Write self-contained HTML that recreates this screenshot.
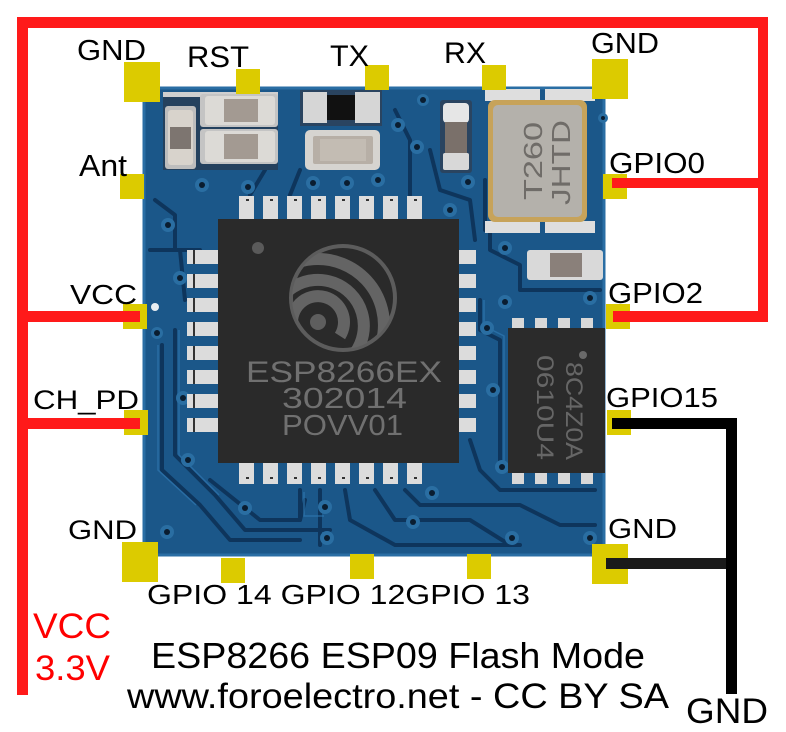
<!DOCTYPE html>
<html><head><meta charset="utf-8">
<style>
html,body{margin:0;padding:0;background:#fff;}
svg{display:block;}
text{font-family:"Liberation Sans",Arial,sans-serif;}
</style></head>
<body>
<svg width="786" height="732" viewBox="0 0 786 732" xmlns="http://www.w3.org/2000/svg">
<rect width="786" height="732" fill="#fff"/>

<!-- PCB board -->
<rect x="143" y="87" width="462" height="469" fill="#1b5789"/>
<rect x="144" y="88" width="460" height="467" fill="none" stroke="#2a6ea4" stroke-width="3"/>
<!-- traces (dark outlines) -->
<g fill="none" stroke="#0e355c" stroke-width="4" stroke-linecap="round" stroke-linejoin="round">
  <path d="M155 200 L175 215 L175 250 L200 250"/>
  <path d="M150 250 L180 250 L185 300"/>
  <path d="M162 345 L162 470 L200 505 L230 540 L300 540"/>
  <path d="M175 330 L175 455 L215 495 L245 530 L330 530"/>
  <path d="M210 480 L260 520 L300 520 L305 500"/>
  <path d="M300 490 L300 520 M320 490 L320 545 M345 490 L350 520 L395 545 L520 545"/>
  <path d="M375 490 L395 520 L470 520 L510 545"/>
  <path d="M405 490 L420 505 L520 505 L560 525 L595 525"/>
  <path d="M470 440 L480 470 L500 490 L595 490"/>
  <path d="M480 300 L480 330 L500 340 L500 470"/>
  <path d="M490 230 L490 250 L520 265 L520 290 L600 290"/>
  <path d="M430 150 L440 190 L470 200 L475 240"/>
  <path d="M395 110 L410 140 L410 195"/>
  <path d="M300 170 L290 195 M265 170 L250 195"/>
  <path d="M485 180 L485 230"/>
</g>
<g fill="none" stroke="#2f77b0" stroke-width="1.5" opacity="0.7">
  <path d="M158 345 L158 470 L196 505"/>
  <path d="M179 330 L179 455 L219 495"/>
  <path d="M304 492 L304 516 L324 516"/>
  <path d="M484 300 L484 326 L504 336 L504 466"/>
</g>

<!-- vias -->
<g>
  <g fill="#2a6ea2">
    <circle cx="202" cy="185" r="7"/><circle cx="248" cy="187" r="7"/><circle cx="313" cy="183" r="7"/>
    <circle cx="347" cy="183" r="7"/><circle cx="378" cy="180" r="7"/><circle cx="398" cy="125" r="7"/>
    <circle cx="417" cy="147" r="7"/><circle cx="423" cy="100" r="6"/><circle cx="468" cy="182" r="7"/>
    <circle cx="450" cy="210" r="7"/><circle cx="168" cy="225" r="7"/><circle cx="180" cy="278" r="7"/>
    <circle cx="157" cy="333" r="6"/><circle cx="183" cy="398" r="7"/><circle cx="188" cy="460" r="7"/>
    <circle cx="167" cy="532" r="7"/><circle cx="245" cy="508" r="7"/><circle cx="325" cy="507" r="7"/>
    <circle cx="327" cy="538" r="7"/><circle cx="413" cy="522" r="7"/><circle cx="432" cy="493" r="7"/>
    <circle cx="505" cy="248" r="7"/><circle cx="505" cy="302" r="7"/><circle cx="487" cy="328" r="7"/>
    <circle cx="493" cy="390" r="7"/><circle cx="502" cy="467" r="7"/><circle cx="512" cy="538" r="7"/>
    <circle cx="590" cy="298" r="7"/><circle cx="590" cy="538" r="7"/><circle cx="603" cy="118" r="5"/>
  </g>
  <g fill="#0a1d30">
    <circle cx="202" cy="185" r="3"/><circle cx="248" cy="187" r="3"/><circle cx="313" cy="183" r="3"/>
    <circle cx="347" cy="183" r="3"/><circle cx="378" cy="180" r="3"/><circle cx="398" cy="125" r="3"/>
    <circle cx="417" cy="147" r="3"/><circle cx="423" cy="100" r="3"/><circle cx="468" cy="182" r="3"/>
    <circle cx="450" cy="210" r="3"/><circle cx="168" cy="225" r="3"/><circle cx="180" cy="278" r="3"/>
    <circle cx="157" cy="333" r="3"/><circle cx="183" cy="398" r="3"/><circle cx="188" cy="460" r="3"/>
    <circle cx="167" cy="532" r="3"/><circle cx="245" cy="508" r="3"/><circle cx="325" cy="507" r="3"/>
    <circle cx="327" cy="538" r="3"/><circle cx="413" cy="522" r="3"/><circle cx="432" cy="493" r="3"/>
    <circle cx="505" cy="248" r="3"/><circle cx="505" cy="302" r="3"/><circle cx="487" cy="328" r="3"/>
    <circle cx="493" cy="390" r="3"/><circle cx="502" cy="467" r="3"/><circle cx="512" cy="538" r="3"/>
    <circle cx="590" cy="298" r="3"/><circle cx="590" cy="538" r="3"/><circle cx="603" cy="118" r="2"/>
  </g>
  <circle cx="155" cy="307" r="4" fill="#e8eef2"/>
</g>

<!-- top-left SMD group -->
<rect x="163" y="92" width="115" height="78" fill="#24415e"/>
<rect x="163" y="92" width="115" height="5" fill="#cfcfcf"/>
<rect x="165" y="106" width="31" height="63" rx="3" fill="#bdbdbd"/>
<rect x="168" y="110" width="25" height="55" rx="3" fill="#d8d3cc"/>
<rect x="170" y="127" width="21" height="22" fill="#7d7570"/>
<rect x="200" y="94" width="78" height="33" rx="3" fill="#c4c4c4"/>
<rect x="205" y="96" width="70" height="29" rx="3" fill="#dcdad6"/>
<rect x="224" y="99" width="34" height="23" fill="#a39a92"/>
<rect x="200" y="129" width="78" height="35" rx="3" fill="#c4c4c4"/>
<rect x="205" y="131" width="70" height="31" rx="3" fill="#dcdad6"/>
<rect x="224" y="134" width="34" height="25" fill="#a39a92"/>

<!-- transistor / diode -->
<rect x="300" y="90" width="82" height="36" fill="#2a4460"/>
<rect x="303" y="92" width="24" height="31" fill="#d6d6d6"/>
<rect x="327" y="95" width="30" height="25" fill="#111"/>
<rect x="355" y="92" width="25" height="31" fill="#d6d6d6"/>
<!-- cap -->
<rect x="305" y="130" width="75" height="40" rx="5" fill="#d6d4d0"/>
<rect x="313" y="136" width="60" height="28" rx="2" fill="#b7afa6"/>
<rect x="320" y="139" width="46" height="22" fill="#c3bcb3"/>
<!-- vertical cap -->
<rect x="440" y="100" width="32" height="73" rx="3" fill="#2a4460"/>
<rect x="443" y="103" width="26" height="20" rx="4" fill="#e6e6e6"/>
<rect x="445" y="122" width="22" height="32" fill="#7a706a"/>
<rect x="443" y="153" width="26" height="17" rx="2" fill="#d8d8d8"/>

<!-- crystal -->
<rect x="485" y="89" width="55" height="12" fill="#dedede"/>
<rect x="545" y="89" width="50" height="12" fill="#dedede"/>
<rect x="485" y="221" width="55" height="12" fill="#dedede"/>
<rect x="545" y="221" width="50" height="12" fill="#dedede"/>
<rect x="488" y="100" width="99" height="122" rx="7" fill="#c7a35a"/>
<rect x="493" y="105" width="89" height="112" rx="5" fill="#b4b1ab"/>
<text transform="translate(542,200) rotate(-90)" font-size="26" fill="#6f6c68" textLength="78" lengthAdjust="spacingAndGlyphs">T260</text>
<text transform="translate(570,205) rotate(-90)" font-size="26" fill="#6f6c68" textLength="85" lengthAdjust="spacingAndGlyphs">JHTD</text>

<!-- right cap -->
<rect x="527" y="250" width="76" height="30" rx="3" fill="#d9d9d9"/>
<rect x="550" y="253" width="32" height="24" fill="#8a807a"/>

<!-- main chip pins -->
<g fill="#dcdcdc">
  <rect x="239" y="196" width="15" height="24"/><rect x="263" y="196" width="15" height="24"/>
  <rect x="287" y="196" width="15" height="24"/><rect x="311" y="196" width="15" height="24"/>
  <rect x="335" y="196" width="15" height="24"/><rect x="359" y="196" width="15" height="24"/>
  <rect x="383" y="196" width="15" height="24"/><rect x="407" y="196" width="15" height="24"/>
  <rect x="239" y="462" width="15" height="22"/><rect x="263" y="462" width="15" height="22"/>
  <rect x="287" y="462" width="15" height="22"/><rect x="311" y="462" width="15" height="22"/>
  <rect x="335" y="462" width="15" height="22"/><rect x="359" y="462" width="15" height="22"/>
  <rect x="383" y="462" width="15" height="22"/><rect x="407" y="462" width="15" height="22"/>
  <rect x="187" y="250" width="32" height="14"/><rect x="187" y="274" width="32" height="14"/>
  <rect x="187" y="298" width="32" height="14"/><rect x="187" y="322" width="32" height="14"/>
  <rect x="187" y="346" width="32" height="14"/><rect x="187" y="370" width="32" height="14"/>
  <rect x="187" y="394" width="32" height="14"/><rect x="187" y="418" width="32" height="14"/>
  <rect x="458" y="250" width="18" height="14"/><rect x="458" y="274" width="18" height="14"/>
  <rect x="458" y="298" width="18" height="14"/><rect x="458" y="322" width="18" height="14"/>
  <rect x="458" y="346" width="18" height="14"/><rect x="458" y="370" width="18" height="14"/>
  <rect x="458" y="394" width="18" height="14"/><rect x="458" y="418" width="18" height="14"/>
</g>
<g stroke="#333" stroke-width="2" fill="none">
  <path d="M194 250 v14 M194 274 v14 M194 298 v14 M194 322 v14 M194 346 v14 M194 370 v14 M194 394 v14 M194 418 v14"/>
  <path d="M246 200 h3 M270 200 h3 M294 200 h3 M318 200 h3 M342 200 h3 M366 200 h3 M390 200 h3 M414 200 h3"/>
  <path d="M246 478 h3 M270 478 h3 M294 478 h3 M318 478 h3 M342 478 h3 M366 478 h3 M390 478 h3 M414 478 h3"/>
</g>

<!-- main chip body -->
<rect x="218" y="219" width="241" height="244" fill="#2a2a2a"/>
<circle cx="258" cy="248" r="6" fill="#5a5a5a"/>
<!-- ESP logo -->
<defs><clipPath id="lc"><circle cx="343" cy="298" r="51"/></clipPath></defs>
<circle cx="343" cy="298" r="52" fill="none" stroke="#5c5c5c" stroke-width="4"/>
<g clip-path="url(#lc)" fill="none" stroke="#646464" stroke-width="12">
  <path d="M292 322 A26 26 0 1 1 340 336"/>
  <path d="M272 322 A46 46 0 1 1 355 353"/>
  <path d="M252 322 A66 66 0 1 1 368 368"/>
</g>
<circle cx="318" cy="322" r="8" fill="#5e5e5e"/>
<text x="246" y="382" font-size="30" fill="#707070" textLength="196" lengthAdjust="spacingAndGlyphs">ESP8266EX</text>
<text x="282" y="408" font-size="29" fill="#707070" textLength="125" lengthAdjust="spacingAndGlyphs">302014</text>
<text x="282" y="435" font-size="29" fill="#707070" textLength="121" lengthAdjust="spacingAndGlyphs">POVV01</text>

<!-- flash chip -->
<g fill="#d8d8d8">
  <rect x="512" y="318" width="12" height="11"/><rect x="535" y="318" width="12" height="11"/>
  <rect x="558" y="318" width="12" height="11"/><rect x="581" y="318" width="12" height="11"/>
  <rect x="512" y="472" width="12" height="12"/><rect x="535" y="472" width="12" height="12"/>
  <rect x="558" y="472" width="12" height="12"/><rect x="581" y="472" width="12" height="12"/>
</g>
<rect x="508" y="328" width="97" height="145" fill="#2b2b2b"/>
<circle cx="583" cy="355" r="4" fill="#6a6a6a"/>
<text transform="translate(537,355) rotate(90)" font-size="24" fill="#666" textLength="105" lengthAdjust="spacingAndGlyphs">0610U4</text>
<text transform="translate(566,362) rotate(90)" font-size="24" fill="#666" textLength="98" lengthAdjust="spacingAndGlyphs">8C4Z0A</text>

<!-- yellow pads -->
<g fill="#dccb00">
  <rect x="124" y="62" width="36" height="40"/>
  <rect x="236" y="69" width="24" height="25"/>
  <rect x="365" y="65" width="24" height="25"/>
  <rect x="482" y="65" width="24" height="25"/>
  <rect x="592" y="59" width="36" height="40"/>
  <rect x="120" y="174" width="24" height="25"/>
  <rect x="603" y="174" width="24" height="25"/>
  <rect x="123" y="304" width="24" height="25"/>
  <rect x="606" y="304" width="24" height="25"/>
  <rect x="124" y="410" width="24" height="25"/>
  <rect x="607" y="410" width="24" height="25"/>
  <rect x="122" y="542" width="36" height="40"/>
  <rect x="592" y="544" width="36" height="40"/>
  <rect x="221" y="558" width="24" height="25"/>
  <rect x="350" y="554" width="24" height="25"/>
  <rect x="467" y="554" width="24" height="25"/>
</g>

<!-- red wires -->
<g fill="#ff1a1a">
  <rect x="17" y="17" width="751" height="11"/>
  <rect x="17" y="17" width="11" height="678"/>
  <rect x="758" y="17" width="10" height="305"/>
  <rect x="612" y="178" width="156" height="10"/>
  <rect x="613" y="311" width="155" height="11"/>
  <rect x="17" y="311" width="123" height="11"/>
  <rect x="17" y="418" width="123" height="11"/>
</g>
<!-- black wires -->
<rect x="612" y="418" width="125" height="11" fill="#000"/>
<rect x="726" y="418" width="11" height="276" fill="#000"/>
<rect x="606" y="558" width="120" height="11" fill="#1a1a1a"/>

<!-- labels -->
<g fill="#000">
  <text x="77" y="60" font-size="29" textLength="69" lengthAdjust="spacingAndGlyphs">GND</text>
  <text x="187" y="67" font-size="30" textLength="62" lengthAdjust="spacingAndGlyphs">RST</text>
  <text x="330" y="66" font-size="30" textLength="39" lengthAdjust="spacingAndGlyphs">TX</text>
  <text x="444" y="63" font-size="30" textLength="42" lengthAdjust="spacingAndGlyphs">RX</text>
  <text x="591" y="53" font-size="29" textLength="68" lengthAdjust="spacingAndGlyphs">GND</text>
  <text x="79" y="176" font-size="31" textLength="48" lengthAdjust="spacingAndGlyphs">Ant</text>
  <text x="609" y="173" font-size="29" textLength="96" lengthAdjust="spacingAndGlyphs">GPIO0</text>
  <text x="70" y="304" font-size="28" textLength="67" lengthAdjust="spacingAndGlyphs">VCC</text>
  <text x="608" y="303" font-size="29" textLength="95" lengthAdjust="spacingAndGlyphs">GPIO2</text>
  <text x="33" y="409" font-size="27" textLength="106" lengthAdjust="spacingAndGlyphs">CH_PD</text>
  <text x="606" y="407" font-size="28" textLength="112" lengthAdjust="spacingAndGlyphs">GPIO15</text>
  <text x="68" y="539" font-size="27" textLength="69" lengthAdjust="spacingAndGlyphs">GND</text>
  <text x="608" y="538" font-size="28" textLength="69" lengthAdjust="spacingAndGlyphs">GND</text>
  <text x="147" y="604" font-size="28" textLength="383" lengthAdjust="spacingAndGlyphs">GPIO 14 GPIO 12GPIO 13</text>
  <text x="151" y="668" font-size="36" textLength="494" lengthAdjust="spacingAndGlyphs">ESP8266 ESP09 Flash Mode</text>
  <text x="127" y="708" font-size="35" textLength="542" lengthAdjust="spacingAndGlyphs">www.foroelectro.net - CC BY SA</text>
  <text x="686" y="723" font-size="35" textLength="82" lengthAdjust="spacingAndGlyphs">GND</text>
</g>
<g fill="#ff0000">
  <text x="33" y="638" font-size="35" textLength="78" lengthAdjust="spacingAndGlyphs">VCC</text>
  <text x="35" y="680" font-size="35" textLength="75" lengthAdjust="spacingAndGlyphs">3.3V</text>
</g>
</svg>
</body></html>
